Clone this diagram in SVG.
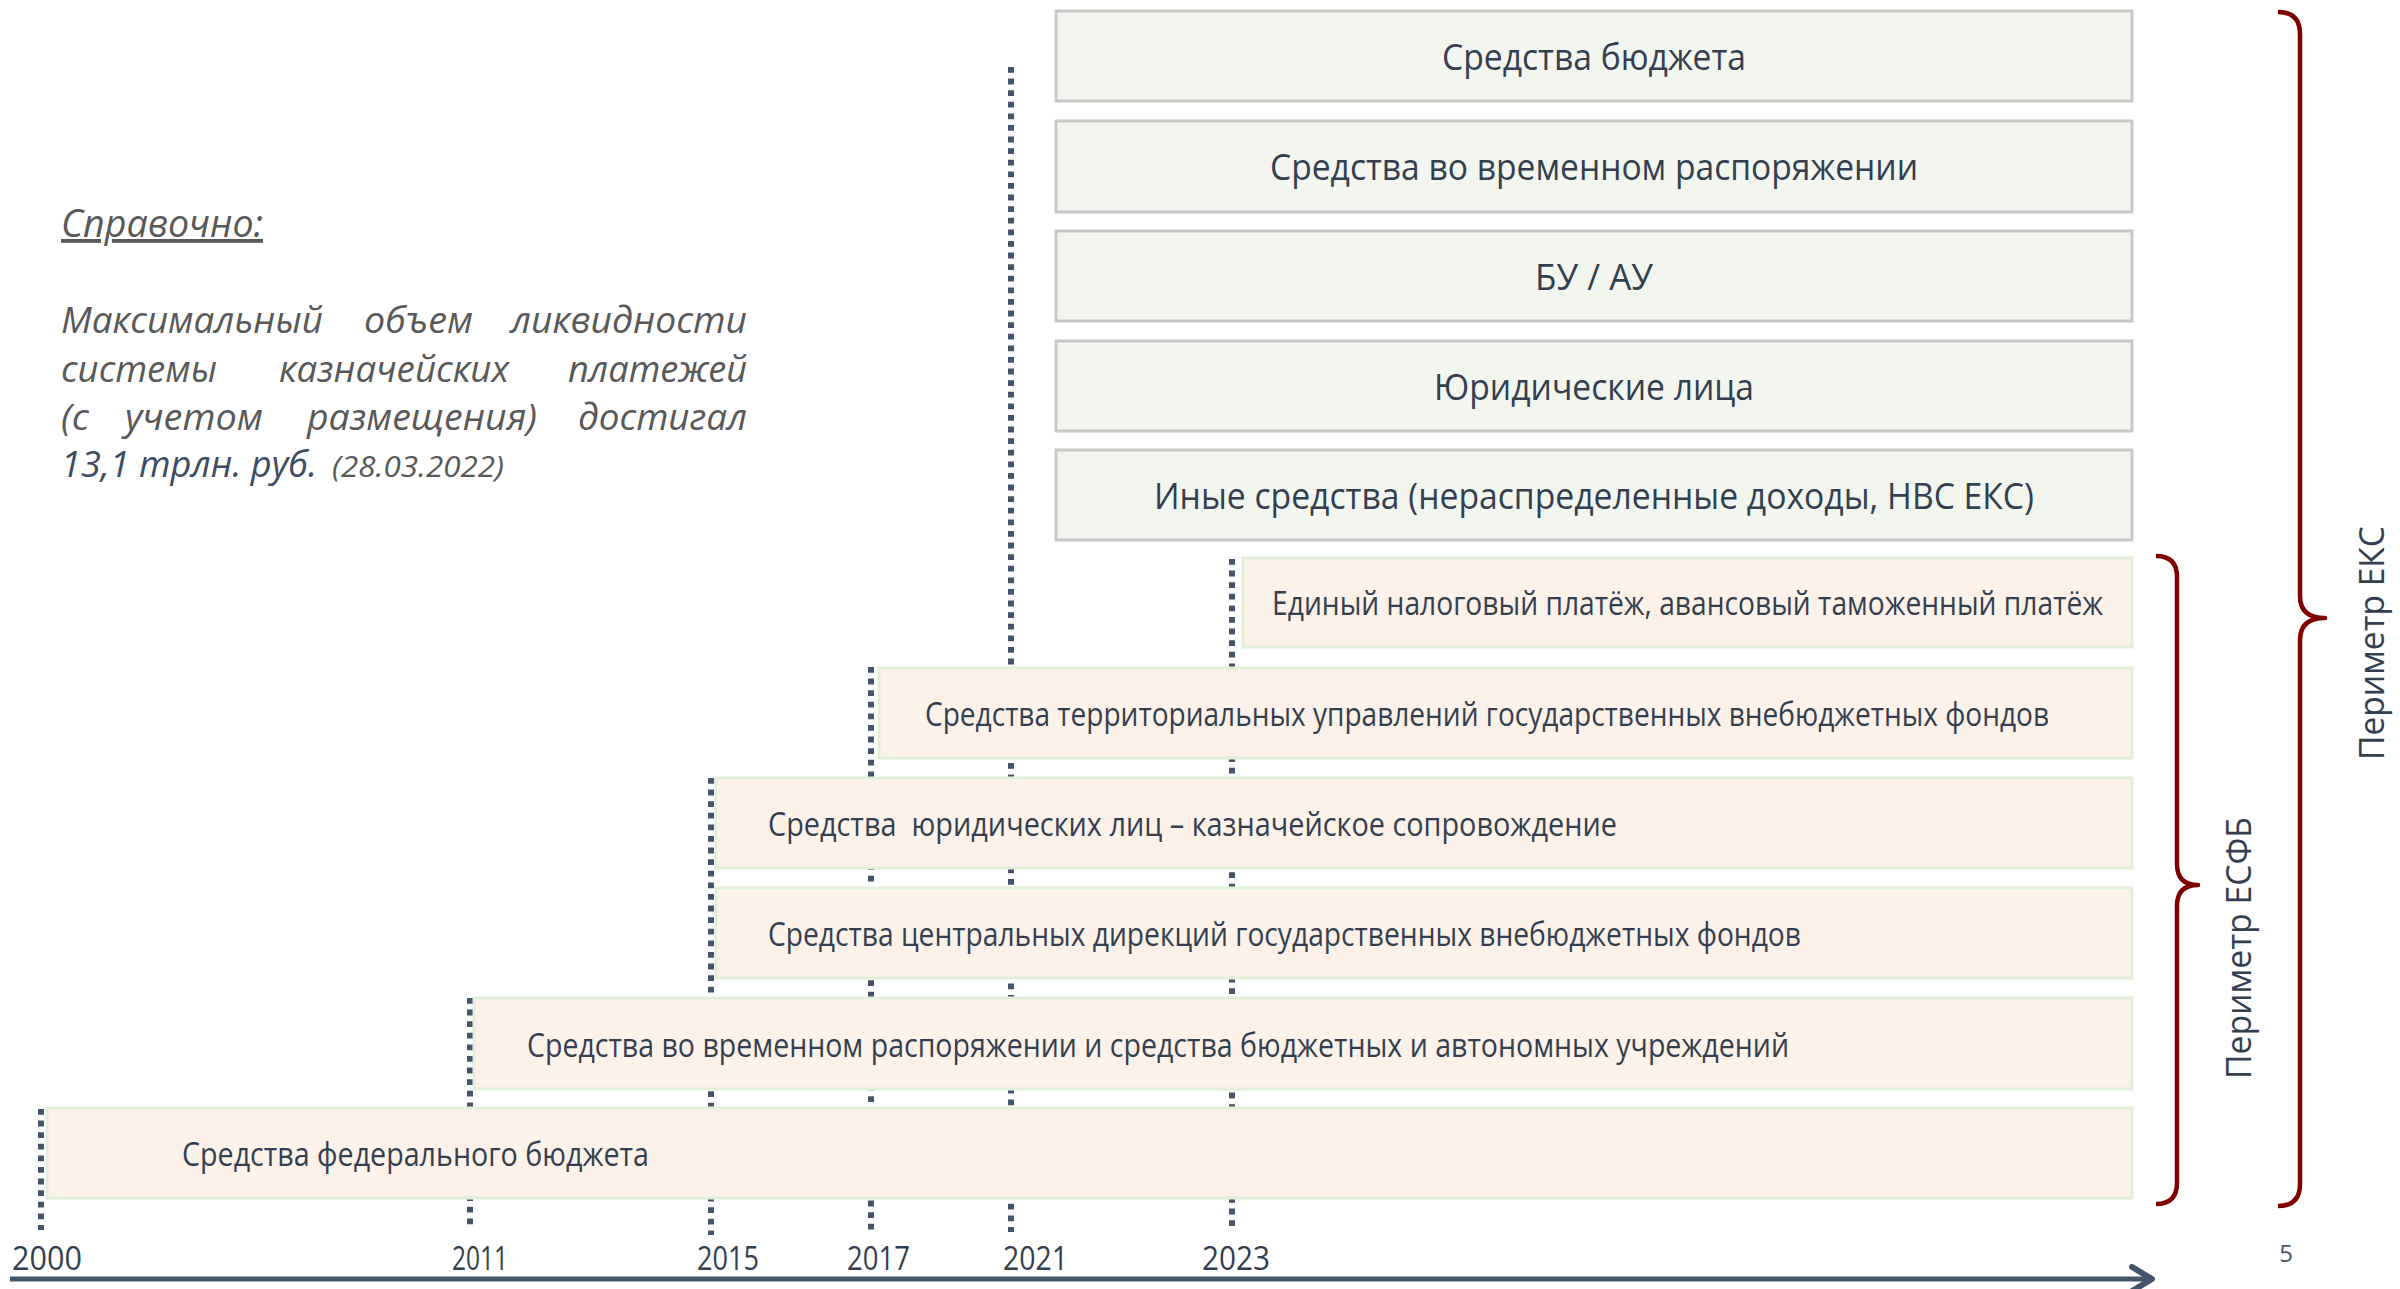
<svg xmlns="http://www.w3.org/2000/svg" width="2400" height="1289" viewBox="0 0 2400 1289">
<style>
  text { font-family: "Open Sans", "Noto Sans", "DejaVu Sans", sans-serif; }
  .g rect { fill: #f3f6ee; stroke: #c9c9c9; stroke-width: 3; }
  .p rect { fill: #fdf2e9; stroke: #e2efd9; stroke-width: 3; }
  .gt { font-size: 36px; fill: #333f50; text-anchor: middle; }
  .pt { font-size: 32px; fill: #333f50; }
  .yr { font-size: 32px; fill: #333f50; }
  .dot { stroke: #44546a; stroke-width: 6; stroke-dasharray: 5.8 5.8; fill: none; }
  .note { font-size: 36px; font-style: italic; font-weight: 400; fill: #595959; }
  .hl { fill: #3e4c63; }
  .brace { fill: none; stroke: #800000; stroke-width: 4.5; stroke-linejoin: round; }
  .per { font-size: 35px; fill: #333f50; text-anchor: middle; }
</style>

<g id="connectors">
  <line class="dot" x1="41" y1="1109" x2="41" y2="1230"/>
  <line class="dot" x1="470" y1="998" x2="470" y2="1230"/>
  <line class="dot" x1="711" y1="778" x2="711" y2="1235"/>
  <line class="dot" x1="871" y1="667" x2="871" y2="1232"/>
  <line class="dot" x1="1011" y1="67" x2="1011" y2="1232"/>
  <line class="dot" x1="1232" y1="559" x2="1232" y2="1228"/>
  <g id="axis">
    <line x1="10" y1="1279" x2="2150" y2="1279" stroke="#44546a" stroke-width="5"/>
    <polyline points="2132,1267 2152,1279 2132,1291" fill="none" stroke="#44546a" stroke-width="6" stroke-linejoin="round" stroke-linecap="round"/>
  </g>
</g>

<g id="green-boxes" class="g">
  <g id="n-budget"><rect x="1056" y="11" width="1076" height="90"/><text class="gt" x="1594" y="70" textLength="304" lengthAdjust="spacingAndGlyphs">Средства бюджета</text></g>
  <g id="n-temp"><rect x="1056" y="121" width="1076" height="91"/><text class="gt" x="1594" y="180" textLength="648" lengthAdjust="spacingAndGlyphs">Средства во временном распоряжении</text></g>
  <g id="n-bu"><rect x="1056" y="231" width="1076" height="90"/><text class="gt" x="1594" y="290" textLength="118" lengthAdjust="spacingAndGlyphs">БУ / АУ</text></g>
  <g id="n-ul"><rect x="1056" y="341" width="1076" height="90"/><text class="gt" x="1594" y="400" textLength="320" lengthAdjust="spacingAndGlyphs">Юридические лица</text></g>
  <g id="n-other"><rect x="1056" y="450" width="1076" height="90"/><text class="gt" x="1594" y="509" textLength="880" lengthAdjust="spacingAndGlyphs">Иные средства (нераспределенные доходы, НВС ЕКС)</text></g>
</g>

<g id="peach-boxes" class="p">
  <g id="n-enp"><rect x="1243" y="558" width="889" height="89"/><text class="pt" x="1272" y="615" textLength="831" lengthAdjust="spacingAndGlyphs">Единый налоговый платёж, авансовый таможенный платёж</text></g>
  <g id="n-terr"><rect x="879" y="668" width="1253" height="90"/><text class="pt" x="925" y="726" textLength="1124" lengthAdjust="spacingAndGlyphs">Средства территориальных управлений государственных внебюджетных фондов</text></g>
  <g id="n-kazn"><rect x="716" y="778" width="1416" height="90"/><text class="pt" x="768" y="836" textLength="849" lengthAdjust="spacingAndGlyphs" xml:space="preserve">Средства  юридических лиц – казначейское сопровождение</text></g>
  <g id="n-central"><rect x="716" y="888" width="1416" height="90"/><text class="pt" x="768" y="946" textLength="1033" lengthAdjust="spacingAndGlyphs">Средства центральных дирекций государственных внебюджетных фондов</text></g>
  <g id="n-vr"><rect x="474" y="998" width="1658" height="91"/><text class="pt" x="527" y="1057" textLength="1262" lengthAdjust="spacingAndGlyphs">Средства во временном распоряжении и средства бюджетных и автономных учреждений</text></g>
  <g id="n-fb"><rect x="47" y="1108" width="2085" height="90"/><text class="pt" x="182" y="1166" textLength="467" lengthAdjust="spacingAndGlyphs">Средства федерального бюджета</text></g>
</g>

<g id="years">
  <text class="yr" x="12" y="1270" textLength="70" lengthAdjust="spacingAndGlyphs">2000</text>
  <text class="yr" x="452" y="1270" textLength="56" lengthAdjust="spacingAndGlyphs">2011</text>
  <text class="yr" x="697" y="1270" textLength="62" lengthAdjust="spacingAndGlyphs">2015</text>
  <text class="yr" x="847" y="1270" textLength="63" lengthAdjust="spacingAndGlyphs">2017</text>
  <text class="yr" x="1003" y="1270" textLength="65" lengthAdjust="spacingAndGlyphs">2021</text>
  <text class="yr" x="1202" y="1270" textLength="68" lengthAdjust="spacingAndGlyphs">2023</text>
</g>

<g id="note">
  <text class="note" x="61" y="237" style="font-size:38px" text-decoration="underline" textLength="202" lengthAdjust="spacingAndGlyphs">Справочно:</text>
  <text class="note" x="61" y="333" textLength="262" lengthAdjust="spacingAndGlyphs">Максимальный</text>
  <text class="note" x="364" y="333" textLength="109" lengthAdjust="spacingAndGlyphs">объем</text>
  <text class="note" x="511" y="333" textLength="236" lengthAdjust="spacingAndGlyphs">ликвидности</text>
  <text class="note" x="61" y="382" textLength="156" lengthAdjust="spacingAndGlyphs">системы</text>
  <text class="note" x="279" y="382" textLength="230" lengthAdjust="spacingAndGlyphs">казначейских</text>
  <text class="note" x="568" y="382" textLength="179" lengthAdjust="spacingAndGlyphs">платежей</text>
  <text class="note" x="61" y="430" textLength="28" lengthAdjust="spacingAndGlyphs">(с</text>
  <text class="note" x="125" y="430" textLength="138" lengthAdjust="spacingAndGlyphs">учетом</text>
  <text class="note" x="307" y="430" textLength="230" lengthAdjust="spacingAndGlyphs">размещения)</text>
  <text class="note" x="578" y="430" textLength="169" lengthAdjust="spacingAndGlyphs">достигал</text>
  <text class="note hl" x="61" y="477" textLength="256" lengthAdjust="spacingAndGlyphs">13,1 трлн. руб.</text>
  <text class="note" x="332" y="477" style="font-size:30px" textLength="172" lengthAdjust="spacingAndGlyphs">(28.03.2022)</text>
</g>

<g id="brace-esfb">
  <path class="brace" d="M2156,556 Q2177,556 2177,577 L2177,864 Q2177,885 2198,885 Q2177,885 2177,906 L2177,1183 Q2177,1204 2156,1204"/>
  <text class="per" transform="translate(2251,948) rotate(-90)" textLength="262" lengthAdjust="spacingAndGlyphs">Периметр ЕСФБ</text>
</g>

<g id="brace-eks">
  <path class="brace" d="M2278,12 Q2300,12 2300,34 L2300,596 Q2300,618 2325,618 Q2300,618 2300,640 L2300,1184 Q2300,1206 2278,1206"/>
  <text class="per" transform="translate(2384,643) rotate(-90)" textLength="234" lengthAdjust="spacingAndGlyphs">Периметр ЕКС</text>
</g>

<text id="page" x="2286" y="1262" font-size="24" fill="#44546a" text-anchor="middle" style="font-family:'Open Sans',sans-serif">5</text>
</svg>
